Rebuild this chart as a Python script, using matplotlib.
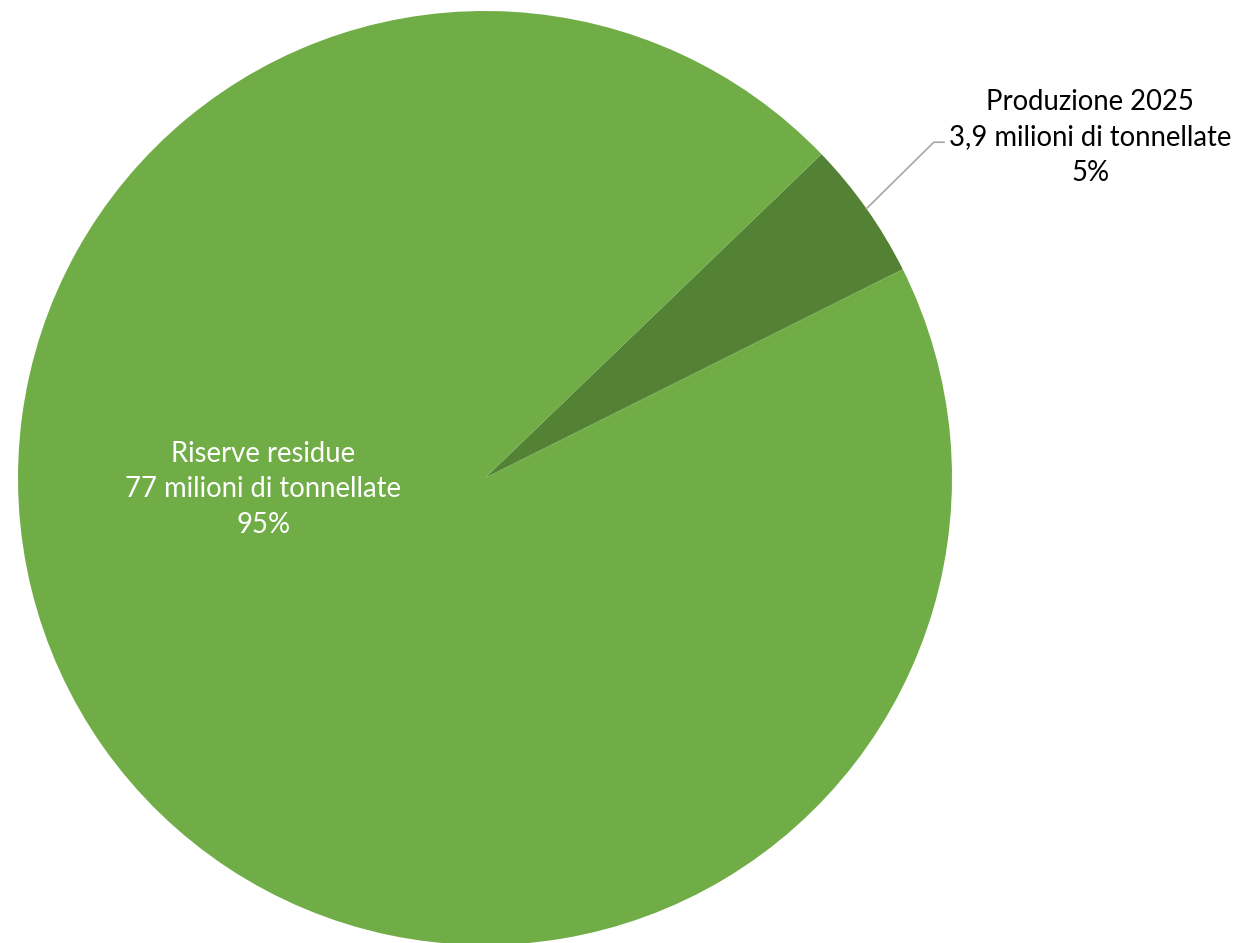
import numpy as np
import matplotlib.pyplot as plt

# dati
categorie = ['Produzione 2025', 'Riserve residue']
valori = [3.9, 77]
etichette_valori = ['3,9 milioni di tonnellate', '77 milioni di tonnellate']
colori = ['#548235', '#70AD47']

plt.rcParams['font.family'] = ['Lato', 'DejaVu Sans']

fig = plt.figure(figsize=(12.41, 9.43), dpi=100)
# asse quadrato: centro torta (485, 478) px, raggio 467 px
ax = fig.add_axes([18 / 1241, (943 - 478 - 467) / 943, 934 / 1241, 934 / 943])

totale = sum(valori)
wedges, _ = ax.pie(valori, colors=colori, startangle=43.9, counterclock=False,
                   radius=1, wedgeprops=dict(linewidth=0))
for w in wedges:
    w.set_clip_on(False)
ax.set_xlim(-1, 1)
ax.set_ylim(-1, 1)
ax.set_aspect('equal')
ax.axis('off')

perc = [f'{round(v / totale * 100)}%' for v in valori]

# etichetta fetta grande (dentro)
ax.text(-0.475, -0.024, f'{categorie[1]}\n{etichette_valori[1]}\n{perc[1]}',
        ha='center', va='center', color='white', fontsize=19.8, linespacing=1.45)

# etichetta fetta piccola con linea guida
w = wedges[0]
theta = np.deg2rad((w.theta1 + w.theta2) / 2)
x0, y0 = np.cos(theta), np.sin(theta)
ax.plot([x0, 0.961, 0.983], [y0, 0.719, 0.719], color='#A6A6A6', lw=1.2,
        clip_on=False)
ax.text(1.296, 0.730, f'{categorie[0]}\n{etichette_valori[0]}\n{perc[0]}',
        ha='center', va='center', color='black', fontsize=19.8, linespacing=1.45)

fig.savefig('out.png', dpi=100)
